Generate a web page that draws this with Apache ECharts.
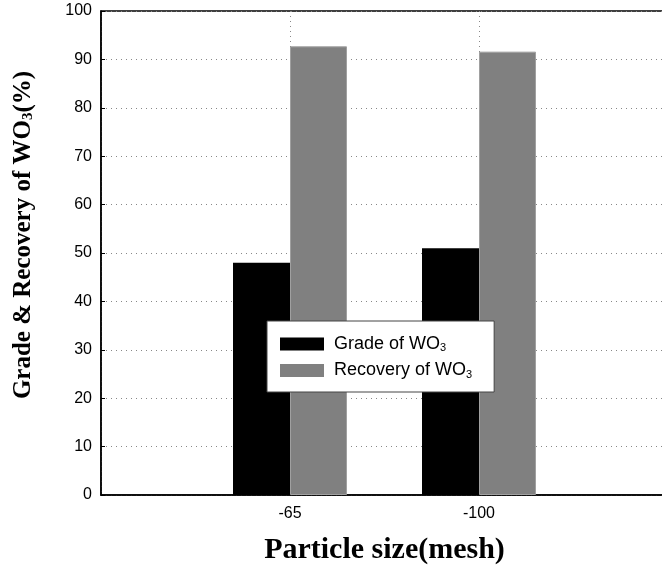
<!DOCTYPE html>
<html>
<head>
<meta charset="utf-8">
<script src="https://cdn.jsdelivr.net/npm/echarts@6/dist/echarts.min.js"></script>
<style>
  html, body { margin: 0; padding: 0; background: #fff; }
  #chart { width: 662px; height: 572px; }
</style>
</head>
<body>
<div id="chart"></div>
<script>
// particle size categories (blank ends pad the axis)
const sizes = ['', '-65', '-100', '']
const grade = ['-', 48.0, 51.0, '-']
const recovery = ['-', 92.7, 91.6, '-']
const yTicks = { min: 0, max: 100, interval: 10 }

const sans = 'Liberation Sans, Arial, sans-serif'
const serif = 'Liberation Serif, Times New Roman, serif'
const subFmt = s => s.replace('WO3', 'WO{sub|3}')

const chart = echarts.init(document.getElementById('chart'))
chart.setOption({
  animation: false,
  grid: {
    left: 101,
    width: 567,
    top: 11,
    bottom: 77,
    outerBoundsMode: 'none',
    containLabel: false,
    show: true,
    borderColor: '#000',
    borderWidth: 1.5
  },
  legend: {
    orient: 'vertical',
    left: 267,
    top: 321,
    backgroundColor: '#fff',
    borderColor: '#444',
    borderWidth: 1,
    padding: [14, 22, 12, 13],
    itemWidth: 44,
    itemHeight: 13,
    itemGap: 8,
    icon: 'rect',
    itemStyle: { borderWidth: 0 },
    formatter: subFmt,
    textStyle: {
      fontFamily: sans,
      fontSize: 18,
      color: '#000',
      padding: [0, 0, 0, 5],
      rich: {
        sub: { fontFamily: sans, fontSize: 11, padding: [8, 0, 0, 0], color: '#000' }
      }
    },
    data: ['Grade of WO3', 'Recovery of WO3']
  },
  xAxis: {
    type: 'category',
    data: sizes,
    boundaryGap: false,
    name: 'Particle size(mesh)',
    nameLocation: 'middle',
    nameGap: 40,
    nameTextStyle: { fontFamily: serif, fontWeight: 'bold', fontSize: 30, color: '#000' },
    axisLine: { lineStyle: { color: '#000', width: 1.5 } },
    axisTick: { show: false },
    axisLabel: { fontFamily: sans, fontSize: 16, color: '#000', margin: 11 },
    splitLine: { show: true, lineStyle: { color: '#888', type: [1, 4], width: 1 } }
  },
  yAxis: {
    type: 'value',
    min: yTicks.min,
    max: yTicks.max,
    interval: yTicks.interval,
    name: '{n|Grade & Recovery of WO}{sub|3}{n|(%)}',
    nameLocation: 'middle',
    nameGap: 65,
    nameTextStyle: {
      padding: [0, 0, 0, 36],
      rich: {
        n: { fontFamily: serif, fontWeight: 'bold', fontSize: 25, color: '#000' },
        sub: { fontFamily: serif, fontWeight: 'bold', fontSize: 15, padding: [10, 0, 0, 0], color: '#000' }
      }
    },
    axisLine: { show: true, lineStyle: { color: '#000', width: 1.5 } },
    axisTick: { show: true, inside: true, length: 4, lineStyle: { color: '#000' } },
    axisLabel: { fontFamily: sans, fontSize: 16, color: '#000', margin: 9 },
    splitLine: { show: true, lineStyle: { color: '#888', type: [1, 4], width: 1 } }
  },
  series: [
    {
      name: 'Grade of WO3',
      type: 'bar',
      data: grade,
      barWidth: 57,
      barGap: '0%',
      itemStyle: { color: '#000' }
    },
    {
      name: 'Recovery of WO3',
      type: 'bar',
      data: recovery,
      barWidth: 57,
      itemStyle: { color: '#808080', borderColor: '#a0a0a0', borderWidth: 1 }
    }
  ]
})
</script>
</body>
</html>
